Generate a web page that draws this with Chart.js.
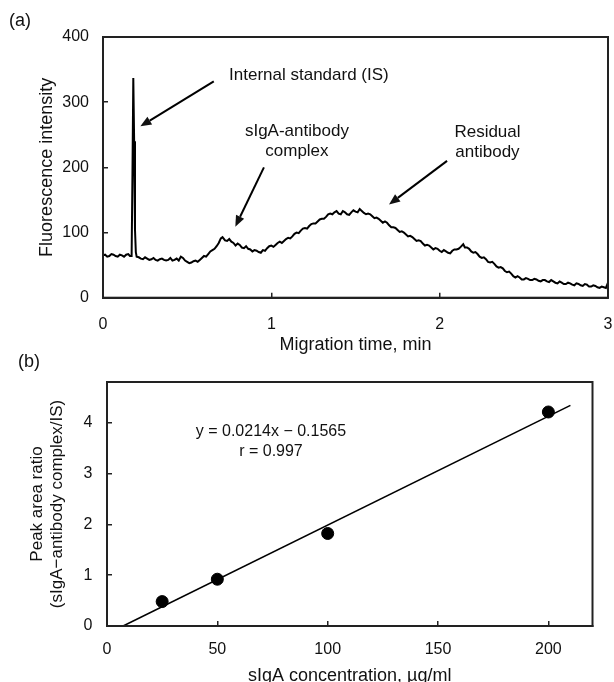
<!DOCTYPE html>
<html>
<head>
<meta charset="utf-8">
<script src="https://cdn.jsdelivr.net/npm/chart.js@4/dist/chart.umd.min.js"></script>
<style>
  html, body { margin: 0; padding: 0; background: #fff; overflow: hidden; }
  #wrap { position: relative; width: 614px; height: 682px; }
  canvas { position: absolute; left: 0; }
  #chartA { top: 0; }
  #chartB { top: 340px; }
</style>
</head>
<body>
<div id="wrap">
  <canvas id="chartA" width="614" height="360"></canvas>
  <canvas id="chartB" width="614" height="350"></canvas>
</div>
<script>
// (a) electropherogram
let migrationTime = [0, 0.0125, 0.025, 0.0375, 0.05, 0.0625, 0.075, 0.0875, 0.1, 0.1125,
  0.125, 0.1375, 0.15, 0.16, 0.17, 0.175, 0.18, 0.185, 0.19, 0.195,
  0.2, 0.2125, 0.225, 0.2375, 0.25, 0.2625, 0.275, 0.2875, 0.3, 0.3125,
  0.325, 0.3375, 0.35, 0.3625, 0.375, 0.3875, 0.4, 0.4125, 0.425, 0.4375,
  0.45, 0.4625, 0.475, 0.4875, 0.5, 0.5125, 0.525, 0.5375, 0.55, 0.5625,
  0.575, 0.5875, 0.6, 0.6125, 0.625, 0.6375, 0.65, 0.6625, 0.675, 0.6875,
  0.7, 0.71, 0.725, 0.7375, 0.75, 0.7625, 0.775, 0.7875, 0.8, 0.8125,
  0.825, 0.8375, 0.85, 0.8625, 0.875, 0.8875, 0.9, 0.9125, 0.925, 0.9375,
  0.95, 0.9625, 0.975, 0.9875, 1.0, 1.0125, 1.025, 1.0375, 1.05, 1.0625,
  1.075, 1.0875, 1.1, 1.1125, 1.125, 1.1375, 1.15, 1.1625, 1.175, 1.1875,
  1.2, 1.2125, 1.225, 1.2375, 1.25, 1.2625, 1.275, 1.2875, 1.3, 1.3125,
  1.325, 1.3375, 1.35, 1.3625, 1.375, 1.3875, 1.4, 1.4125, 1.425, 1.4375,
  1.45, 1.4625, 1.475, 1.4875, 1.5, 1.5125, 1.525, 1.5375, 1.55, 1.5625,
  1.575, 1.5875, 1.6, 1.6125, 1.625, 1.6375, 1.65, 1.6625, 1.675, 1.6875,
  1.7, 1.7125, 1.725, 1.7375, 1.75, 1.7625, 1.775, 1.7875, 1.8, 1.8125,
  1.825, 1.8375, 1.85, 1.8625, 1.875, 1.8875, 1.9, 1.9125, 1.925, 1.9375,
  1.95, 1.9625, 1.975, 1.9875, 2.0, 2.0125, 2.025, 2.0375, 2.05, 2.0625,
  2.075, 2.0875, 2.1, 2.1125, 2.125, 2.14, 2.15, 2.1625, 2.175, 2.1875,
  2.2, 2.2125, 2.225, 2.2375, 2.25, 2.2625, 2.275, 2.2875, 2.3, 2.3125,
  2.325, 2.3375, 2.35, 2.3625, 2.375, 2.3875, 2.4, 2.4125, 2.425, 2.4375,
  2.45, 2.4625, 2.475, 2.4875, 2.5, 2.5125, 2.525, 2.5375, 2.55, 2.5625,
  2.575, 2.5875, 2.6, 2.6125, 2.625, 2.6375, 2.65, 2.6625, 2.675, 2.6875,
  2.7, 2.7125, 2.725, 2.7375, 2.75, 2.7625, 2.775, 2.7875, 2.8, 2.8125,
  2.825, 2.8375, 2.85, 2.8625, 2.875, 2.8875, 2.9, 2.9125, 2.925, 2.9375,
  2.95, 2.9625, 2.975, 2.9875, 3.0]
let intensity = [65, 66, 63, 64, 67, 66, 64, 63, 66, 65,
  63, 66, 67, 64, 64, 190, 337, 240, 105, 70,
  63, 62, 60, 59, 62, 60, 58, 59, 61, 58,
  57, 59, 60, 58, 57, 58, 61, 57, 58, 60,
  57, 63, 61, 57, 55, 53, 54, 56, 57, 55,
  58, 61, 64, 63, 67, 71, 73, 75, 79, 84,
  91, 93, 88, 87, 90, 86, 84, 80, 83, 81,
  77, 76, 79, 75, 74, 71, 73, 72, 70, 69,
  73, 72, 76, 79, 80, 78, 81, 84, 86, 84,
  87, 90, 92, 91, 94, 98, 100, 99, 103, 106,
  107, 106, 110, 113, 114, 114, 117, 120, 121, 121,
  124, 128, 129, 128, 131, 133, 129, 128, 133, 131,
  128, 127, 131, 134, 132, 131, 136, 133, 130, 128,
  129, 128, 125, 122, 123, 121, 118, 115, 117, 115,
  111, 108, 108, 107, 104, 101, 102, 100, 97, 94,
  95, 93, 90, 87, 88, 87, 83, 80, 81, 80,
  77, 74, 76, 75, 72, 70, 73, 71, 69, 68,
  72, 74, 74, 75, 78, 82, 77, 77, 75, 71,
  69, 70, 67, 63, 61, 62, 59, 55, 54, 55,
  52, 48, 46, 47, 45, 41, 39, 40, 37, 33,
  31, 33, 31, 28, 28, 30, 29, 27, 27, 29,
  28, 26, 25, 27, 27, 25, 24, 27, 25, 23,
  22, 25, 23, 21, 21, 23, 22, 20, 19, 22,
  21, 19, 18, 21, 20, 17, 17, 19, 18, 16,
  15, 17, 16, 15, 23]

// (b) calibration
let concentration = [25, 50, 100, 200]
let areaRatio = [0.48, 0.92, 1.82, 4.21]
let fitX = [7.3, 210]
let fitY = [0, 4.34]

let fuente = '"Liberation Sans", Arial, sans-serif'
let tinta = '#111'

// marco completo alrededor del area del grafico
let marco = {
  id: 'marco',
  afterDatasetsDraw(chart) {
    let a = chart.chartArea
    let ctx = chart.ctx
    ctx.save()
    ctx.strokeStyle = '#222'
    ctx.lineWidth = 2
    ctx.strokeRect(a.left, a.top, a.right - a.left, a.bottom - a.top)
    ctx.restore()
  }
}

function flecha(ctx, x1, y1, x2, y2) {
  let ang = Math.atan2(y2 - y1, x2 - x1)
  let largo = 11, ancho = 4.5
  let bx = x2 - largo * Math.cos(ang), by = y2 - largo * Math.sin(ang)
  ctx.beginPath()
  ctx.moveTo(x1, y1)
  ctx.lineTo(bx, by)
  ctx.stroke()
  ctx.beginPath()
  ctx.moveTo(x2, y2)
  ctx.lineTo(bx + ancho * Math.sin(ang), by - ancho * Math.cos(ang))
  ctx.lineTo(bx - ancho * Math.sin(ang), by + ancho * Math.cos(ang))
  ctx.closePath()
  ctx.fill()
}

// textos y flechas en coordenadas de datos
let notasA = [
  { texto: ['Internal standard (IS)'], x: 1.223, y: 341 },
  { texto: ['sIgA-antibody', 'complex'], x: 1.152, y: 256 },
  { texto: ['Residual', 'antibody'], x: 2.284, y: 254 }
]
let flechasA = [
  [0.658, 332, 0.222, 263],
  [0.956, 200, 0.786, 109],
  [2.044, 210, 1.699, 143]
]
let notasB = [
  { texto: ['y = 0.0214x \u2212 0.1565', 'r = 0.997'], x: 74.3, y: 3.82 }
]

function anotaciones(notas, flechas, letra, tam) {
  return {
    id: 'anotaciones',
    afterDraw(chart) {
      let ctx = chart.ctx
      let sx = chart.scales.x, sy = chart.scales.y
      ctx.save()
      ctx.fillStyle = tinta
      ctx.strokeStyle = '#000'
      ctx.lineWidth = 2
      ctx.font = tam + 'px ' + fuente
      ctx.textAlign = 'center'
      ctx.textBaseline = 'middle'
      notas.forEach(n => {
        n.texto.forEach((t, i) => {
          ctx.fillText(t, sx.getPixelForValue(n.x), sy.getPixelForValue(n.y) + i * 20)
        })
      })
      flechas.forEach(f => {
        flecha(ctx, sx.getPixelForValue(f[0]), sy.getPixelForValue(f[1]),
          sx.getPixelForValue(f[2]), sy.getPixelForValue(f[3]))
      })
      ctx.font = '18px ' + fuente
      ctx.textAlign = 'left'
      ctx.fillText(letra[0], letra[1], letra[2])
      ctx.restore()
    }
  }
}

function eje(min, max, paso, titulo, ancho, alto, relleno, pad, tamTitulo) {
  return {
    type: 'linear',
    min: min,
    max: max,
    grid: { drawOnChartArea: false, tickLength: -5, color: '#222', lineWidth: 1.5 },
    border: { color: '#222', width: 2 },
    ticks: { stepSize: paso, includeBounds: false, padding: relleno, color: tinta, font: { family: fuente, size: 16 } },
    title: { display: true, text: titulo, color: tinta, font: { family: fuente, size: tamTitulo }, padding: pad },
    afterFit(scale) {
      if (ancho) scale.width = ancho
      if (alto) {
        scale.height = alto
        scale.paddingLeft = 0
        scale.paddingRight = 0
      }
    }
  }
}

let opcionesA = {
  type: 'line',
  data: {
    datasets: [{
      data: migrationTime.map((t, i) => ({ x: t, y: intensity[i] })),
      borderColor: '#000',
      borderWidth: 2,
      pointRadius: 0,
      tension: 0
    }]
  },
  options: {
    responsive: false,
    animation: false,
    layout: { padding: { top: 37, right: 6, left: 0, bottom: 0 } },
    plugins: { legend: { display: false }, tooltip: { enabled: false } },
    scales: {
      x: eje(0, 3, 1, 'Migration time, min', 0, 62.3, 22, { top: 0, bottom: 4 }, 18),
      y: eje(0, 400, 100, 'Fluorescence intensity', 103, 0, 19, { top: 36, bottom: 0 }, 18)
    }
  },
  plugins: [marco, anotaciones(notasA, flechasA, ['(a)', 9, 21], 17)]
}

let opcionesB = {
  type: 'scatter',
  data: {
    datasets: [{
      data: concentration.map((c, i) => ({ x: c, y: areaRatio[i] })),
      backgroundColor: '#000',
      borderColor: '#000',
      pointRadius: 6,
      order: 1
    }, {
      type: 'line',
      data: fitX.map((c, i) => ({ x: c, y: fitY[i] })),
      borderColor: '#000',
      borderWidth: 1.6,
      pointRadius: 0,
      order: 2
    }]
  },
  options: {
    responsive: false,
    animation: false,
    layout: { padding: { top: 42, right: 21.5, left: 0, bottom: 0 } },
    plugins: { legend: { display: false }, tooltip: { enabled: false } },
    scales: {
      x: eje(0, 220, 50, 'sIgA concentration, \u00b5g/ml', 0, 64, 19, { top: 0, bottom: 3 }, 18),
      y: eje(0, 4.8, 1, ['Peak area ratio', '(sIgA\u2212antibody complex/IS)'], 107, 0, 19.5, { top: 27, bottom: 0 }, 17)
    }
  },
  plugins: [marco, anotaciones(notasB, [], ['(b)', 18, 22], 16)]
}

let graficaA = new Chart(document.getElementById('chartA').getContext('2d'), opcionesA)
let graficaB = new Chart(document.getElementById('chartB').getContext('2d'), opcionesB)
</script>
</body>
</html>
